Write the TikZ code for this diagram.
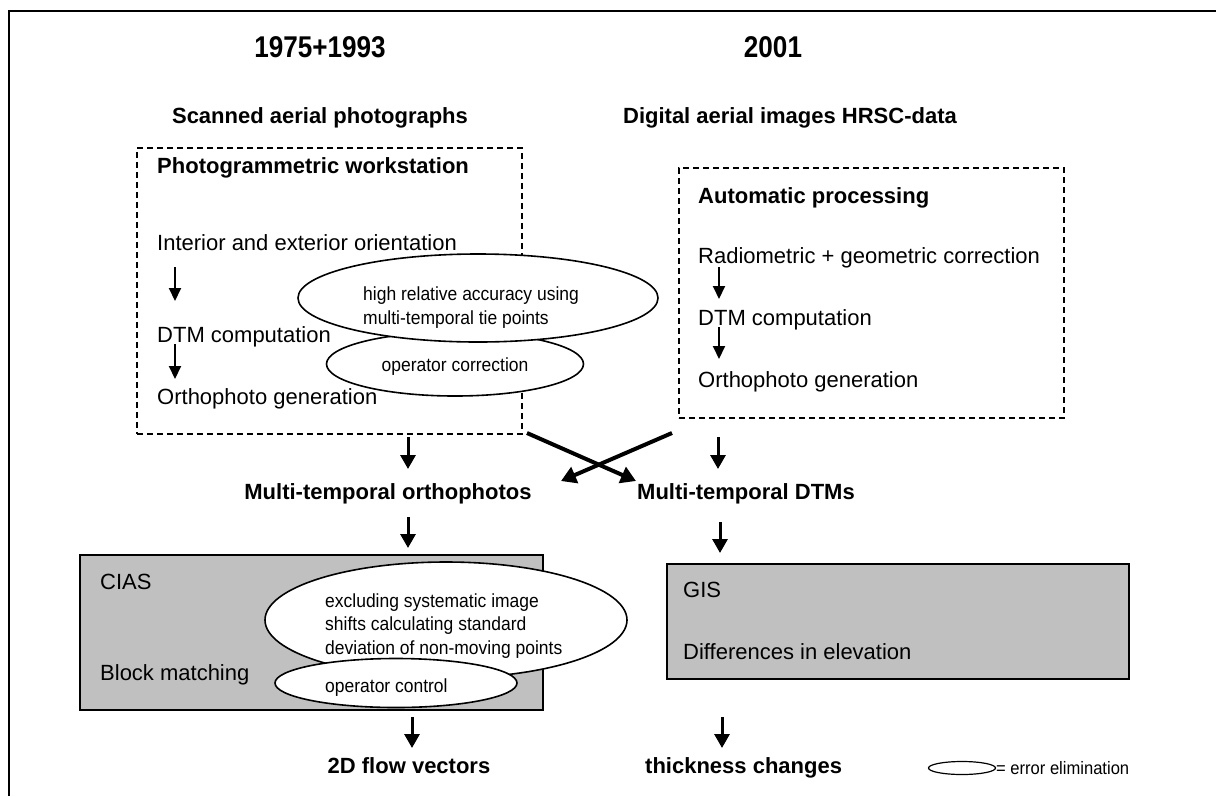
\documentclass[tikz,border=0pt]{standalone}
\usepackage{fontspec}
\setmainfont{Liberation Sans}
\newfontfamily\condfont[FakeStretch=0.92]{Liberation Sans}
\newfontfamily\titlefont[FakeStretch=0.87]{Liberation Sans}
\usetikzlibrary{arrows.meta,shapes.geometric}
\definecolor{boxgray}{HTML}{C0C0C0}
\begin{document}
\begin{tikzpicture}[x=1pt,y=-1pt,
 txt/.style={anchor=base west, inner sep=0, font=\fontsize{22}{26}\selectfont},
 btxt/.style={anchor=base west, inner sep=0, font=\fontsize{22}{26}\selectfont\bfseries},
 ctxt/.style={anchor=base, inner sep=0, font=\fontsize{22}{26}\selectfont\bfseries},
 ttl/.style={anchor=base, inner sep=0, font=\titlefont\fontsize{30}{34}\selectfont\bfseries},
 etxt/.style={anchor=base west, inner sep=0, font=\condfont\fontsize{19}{22}\selectfont},
 dbox/.style={draw, dash pattern=on 6pt off 4pt, line width=1.6pt, anchor=north west, inner sep=0},
 gbox/.style={draw, fill=boxgray, line width=1.8pt, anchor=north west, inner sep=0},
 ell/.style={ellipse, draw, fill=white, line width=1.6pt, inner sep=0},
 sarr/.style={-{Triangle[length=13pt,width=12pt]}, line width=2pt},
 marr/.style={-{Triangle[length=14pt,width=15pt]}, line width=3pt},
 xarr/.style={-{Triangle[length=15pt,width=17pt]}, line width=4pt}]
\useasboundingbox (0,0) rectangle (1216,796);
% frame
\draw[line width=2pt] (9,796) -- (9,11) -- (1216,11);

% headers
\node[ttl] (y1) at (320,57) {1975+1993};
\node[ttl] (y2) at (773,57) {2001};
\node[ctxt] (src1) at (320,123) {Scanned aerial photographs};
\node[ctxt] (src2) at (790,123) {Digital aerial images HRSC-data};

% dashed boxes
\node[dbox, minimum width=385pt, minimum height=286pt] (lbox) at (136,147) {};
\node[dbox, minimum width=385pt, minimum height=250pt] (rbox) at (678,167) {};

% left box contents
\node[btxt] (pw) at (157,173) {Photogrammetric workstation};
\node[txt] (io) at (157,250) {Interior and exterior orientation};
\node[txt] (dtm1) at (157,342) {DTM computation};
\node[txt] (og1) at (157,404) {Orthophoto generation};
\coordinate (l1s) at (175,267); \coordinate (l1e) at (175,301);
\coordinate (l2s) at (175,344); \coordinate (l2e) at (175,379);
\draw[sarr] (l1s) -- (l1e);
\draw[sarr] (l2s) -- (l2e);

% right box contents
\node[btxt] (ap) at (698,203) {Automatic processing};
\node[txt] (rg) at (698,263) {Radiometric + geometric correction};
\node[txt] (dtm2) at (698,325) {DTM computation};
\node[txt] (og2) at (698,387) {Orthophoto generation};
\coordinate (r1s) at (719,267); \coordinate (r1e) at (719,299);
\coordinate (r2s) at (719,327); \coordinate (r2e) at (719,359);
\draw[sarr] (r1s) -- (r1e);
\draw[sarr] (r2s) -- (r2e);

% ellipses over left box
\node[ell, minimum width=257pt, minimum height=64pt] (e2) at (455,364) {};
\node[ell, minimum width=360pt, minimum height=88pt] (e1) at (478,298) {};
\node[etxt] (e1a) at (363,300) {high relative accuracy using};
\node[etxt] (e1b) at (363,324) {multi-temporal tie points};
\node[anchor=base, inner sep=0, font=\condfont\fontsize{19}{22}\selectfont] (e2a) at (455,371) {operator correction};

% middle results
\node[ctxt] (mto) at (388,499) {Multi-temporal orthophotos};
\node[ctxt] (mtd) at (746,499) {Multi-temporal DTMs};
\coordinate (m1s) at (408,437); \coordinate (m1e) at (408,469);
\coordinate (m2s) at (718,437); \coordinate (m2e) at (718,469);
\draw[marr] (m1s) -- (m1e);
\draw[marr] (m2s) -- (m2e);
\coordinate (x1s) at (527,433); \coordinate (x1e) at (636,481);
\coordinate (x2s) at (672,433); \coordinate (x2e) at (561,481);
\draw[xarr] (x1s) -- (x1e);
\draw[xarr] (x2s) -- (x2e);
\coordinate (m3s) at (408,517); \coordinate (m3e) at (408,548);
\coordinate (m4s) at (720,522); \coordinate (m4e) at (720,553);
\draw[marr] (m3s) -- (m3e);
\draw[marr] (m4s) -- (m4e);

% grey boxes
\node[gbox, minimum width=463pt, minimum height=155pt] (cias) at (79,554) {};
\node[gbox, minimum width=462pt, minimum height=115pt] (gis) at (666,563) {};
\node[txt] (ciast) at (100,589) {CIAS};
\node[txt] (bm) at (100,680) {Block matching};
\node[txt] (gist) at (683,597) {GIS};
\node[txt] (de) at (683,659) {Differences in elevation};

\node[ell, minimum width=362pt, minimum height=116pt] (e3) at (446,620) {};
\node[ell, minimum width=242pt, minimum height=49pt] (e4) at (396,683) {};
\node[etxt] (e3a) at (325,607) {excluding systematic image};
\node[etxt] (e3b) at (325,630) {shifts calculating standard};
\node[etxt] (e3c) at (325,654) {deviation of non-moving points};
\node[etxt] (e4a) at (325,692) {operator control};

% outputs
\coordinate (o1s) at (412,717); \coordinate (o1e) at (412,748);
\coordinate (o2s) at (722,717); \coordinate (o2e) at (722,748);
\draw[marr] (o1s) -- (o1e);
\draw[marr] (o2s) -- (o2e);
\node[ctxt] (fv) at (409,773) {2D flow vectors};
\node[btxt] (tc) at (645,773) {thickness changes};

% legend
\node[ell, line width=1.2pt, minimum width=67pt, minimum height=13pt] (leg) at (962,768) {};
\node[anchor=base west, inner sep=0, font=\condfont\fontsize{18}{20}\selectfont] (legt) at (996,774) {= error elimination};
\end{tikzpicture}
\end{document}
